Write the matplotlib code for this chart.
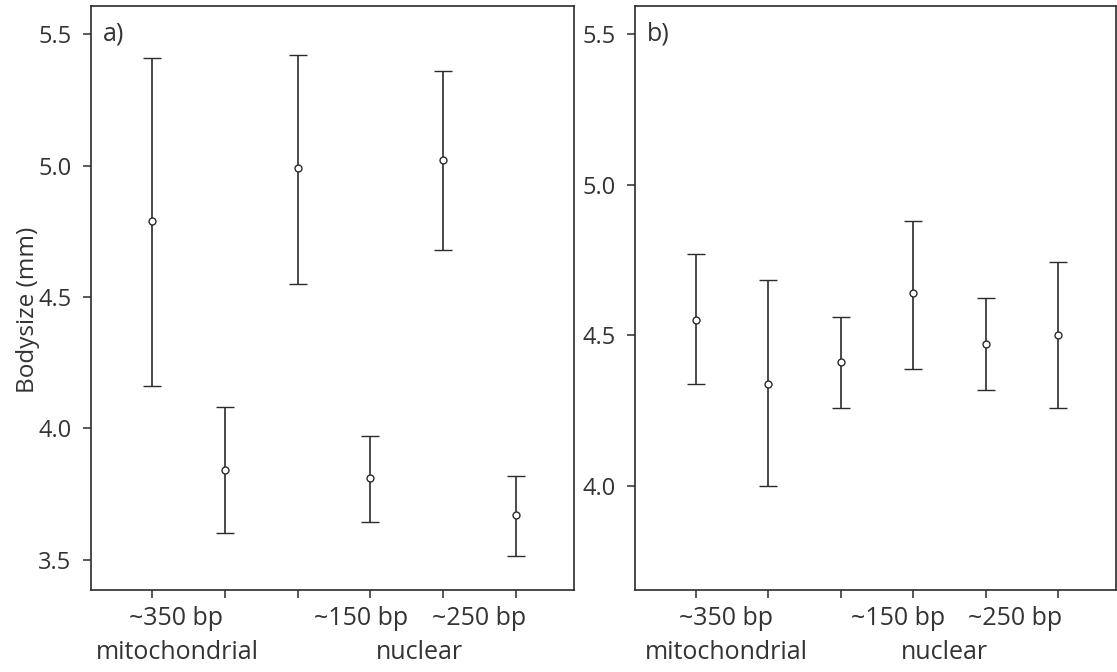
import numpy as np
import matplotlib.pyplot as plt
import matplotlib.transforms as mtransforms

plt.rcParams['font.family'] = ['Open Sans', 'DejaVu Sans']

# --- data: mean body size with upper / lower interval limits ---
groups = [1, 2, 3, 4, 5, 6]

a_mean = [4.79, 3.84, 4.99, 3.81, 5.02, 3.67]
a_upper = [5.41, 4.08, 5.42, 3.97, 5.36, 3.82]
a_lower = [4.16, 3.60, 4.55, 3.645, 4.68, 3.515]

b_mean = [4.55, 4.34, 4.41, 4.64, 4.47, 4.50]
b_upper = [4.77, 4.685, 4.56, 4.88, 4.625, 4.745]
b_lower = [4.34, 4.00, 4.26, 4.39, 4.32, 4.26]

size_names = ["~350 bp", "~150 bp", "~250 bp"]
group_names = ["mitochondrial", "nuclear"]

txt = "#333333"
ink = "#2b2b2b"

fig = plt.figure(figsize=(11.17, 6.72), dpi=100)
ax1 = fig.add_axes([91 / 1117, 82 / 672, 483 / 1117, 584 / 672])
ax2 = fig.add_axes([635 / 1117, 82 / 672, 481 / 1117, 584 / 672])


def draw(ax, mean, upper, lower, ylim, yticks, tag, size_x, group_x):
    mean = np.array(mean)
    err = [mean - np.array(lower), np.array(upper) - mean]
    ax.errorbar(groups, mean, yerr=err, fmt="o", color=ink, ecolor=ink,
                elinewidth=1.2, capsize=6.5, capthick=1.2,
                markersize=5, markerfacecolor="white", markeredgecolor=ink,
                markeredgewidth=1.0)
    ax.set_ylim(*ylim)
    ax.set_xlim(0.16, 6.8)
    ax.set_yticks(yticks)
    ax.set_yticklabels([f"{v:.1f}" for v in yticks])
    ax.set_xticks(groups)
    ax.set_xticklabels([])
    ax.tick_params(direction="out", length=6, width=1.1, color=ink,
                   labelsize=17, labelcolor=txt, pad=8)
    for s in ax.spines.values():
        s.set_linewidth(1.2)
        s.set_color(ink)
    ax.text(0.025, yticks[-1], tag, transform=mtransforms.blended_transform_factory(
        ax.transAxes, ax.transData), fontsize=18, color=txt, va="center", ha="left")
    trans = mtransforms.blended_transform_factory(ax.transData, ax.transAxes)
    for name, x in zip(size_names, size_x):
        ax.text(x, -0.048, name, transform=trans, ha="center", va="center",
                fontsize=18, color=txt)
    for name, x in zip(group_names, group_x):
        ax.text(x, -0.107, name, transform=trans, ha="center", va="center",
                fontsize=18, color=txt)


draw(ax1, a_mean, a_upper, a_lower, (3.385, 5.607), [3.5, 4.0, 4.5, 5.0, 5.5], "a)",
     [1.33, 3.87, 5.50], [1.35, 4.67])
draw(ax2, b_mean, b_upper, b_lower, (3.655, 5.593), [4.0, 4.5, 5.0, 5.5], "b)",
     [1.42, 3.79, 5.40], [1.42, 4.43])

ax1.set_ylabel("Bodysize (mm)", fontsize=17.5, color=txt)
ax1.yaxis.set_label_coords(-0.105, 0.48)

fig.savefig("out.png", dpi=100)
